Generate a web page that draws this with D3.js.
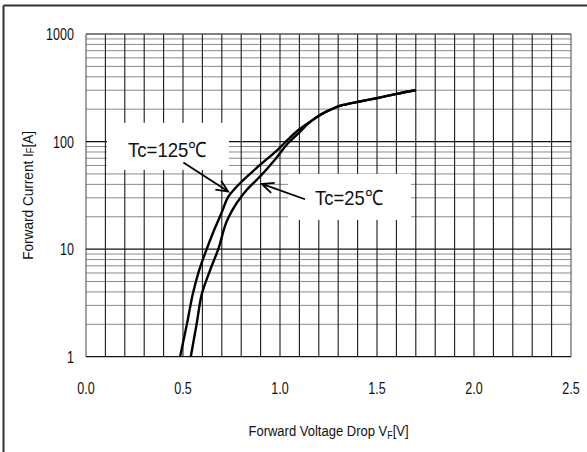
<!DOCTYPE html>
<html><head><meta charset="utf-8">
<script src="https://cdn.jsdelivr.net/npm/d3@7"></script>
<style>
html,body{margin:0;padding:0;background:#fff;}
svg{display:block;}
text{font-family:"Liberation Sans",Arial,sans-serif;fill:#111;}
</style></head>
<body>
<svg id="chart" width="587" height="452"></svg>
<script>
// ---- data ----
const vf125 = [0.485,0.52,0.553,0.584,0.622,0.66,0.70,0.735,0.794,0.88,1.0,1.04,1.10,1.155,1.258,1.326,1.412,1.498,1.601,1.70];
const if125 = [1,2,4,6.4,10,15,22,31,41,57,88,104,130,153,197,219,236,253,278,300];
const vf25  = [0.54,0.57,0.60,0.64,0.682,0.73,0.776,0.828,0.897,0.98,1.04,1.10,1.155,1.258,1.326,1.412,1.498,1.601,1.70];
const if25  = [1,2,4,6.4,10,19,26.7,35.5,47.3,70,96,122,152,197,219,236,253,278,300];
const xTicks = [0,0.5,1.0,1.5,2.0,2.5];
const xTickLabels = ["0.0","0.5","1.0","1.5","2.0","2.5"];
const yTicks = [1,10,100,1000];
const yTickLabels = ["1","10","100","1000"];
const labels = ["Tc=125℃","Tc=25℃"];
// annotation anchors in data units: box [v0,v1,i0,i1], text [v,i], arrow tail/tip
const boxes = [[0.108,0.737,54.5,149.3],[1.041,1.675,18.7,50.1]];
const textAt = [[0.42,72.1],[1.356,25.8]];
const arrowTail = [[0.502,63.8],[1.129,29.1]];
const arrowTip  = [[0.733,34.3],[0.906,40.4]];

// ---- layout ----
const svg = d3.select("#chart");
const L = 86, R = 571, T = 34, B = 356.7;
const x = d3.scaleLinear().domain([0,2.5]).range([L,R]);
const y = d3.scaleLog().domain([1,1000]).range([B,T]);

// outer frame (left & top)
svg.append("line").attr("x1",3.5).attr("x2",3.5).attr("y1",5.5).attr("y2",452).attr("stroke","#333").attr("stroke-width",2);
svg.append("line").attr("x1",3.5).attr("x2",587).attr("y1",5.5).attr("y2",5.5).attr("stroke","#333").attr("stroke-width",2);

const g = svg.append("g");
// minor horizontal grid
const minor = [];
for (let d = 1; d < 1000; d *= 10) for (let k = 2; k <= 9; k++) minor.push(d*k);
g.selectAll(".hmin").data(minor).enter().append("line")
  .attr("x1",L).attr("x2",R).attr("y1",d=>y(d)).attr("y2",d=>y(d))
  .attr("stroke","#8a8a8a").attr("stroke-width",1);
// vertical grid every 0.1
const vgrid = d3.range(0,26).map(i=>i/10);
g.selectAll(".v").data(vgrid).enter().append("line")
  .attr("x1",d=>x(d)).attr("x2",d=>x(d)).attr("y1",T).attr("y2",B)
  .attr("stroke",(d,i)=> (i===0||i===25)?"#555":"#1a1a1a").attr("stroke-width",1.1);
// decade lines
g.selectAll(".hmaj").data(yTicks).enter().append("line")
  .attr("x1",L).attr("x2",R).attr("y1",d=>y(d)).attr("y2",d=>y(d))
  .attr("stroke",(d,i)=> i===3?"#555":"#111").attr("stroke-width",1.3);

// tick labels
function squeeze(sel, k){ sel.each(function(){ const n=this.getComputedTextLength(); d3.select(this).attr("textLength",n*k).attr("lengthAdjust","spacingAndGlyphs"); }); }
const xt = svg.selectAll(".xt").data(xTicks).enter().append("text")
  .attr("x",d=>x(d)).attr("y",393.5).attr("text-anchor","middle").attr("font-size",16.5)
  .text((d,i)=>xTickLabels[i]);
squeeze(xt,0.76);
const yt = svg.selectAll(".yt").data(yTicks).enter().append("text")
  .attr("x",74).attr("y",d=>y(d)+6).attr("text-anchor","end").attr("font-size",16.5)
  .text((d,i)=>yTickLabels[i]);
squeeze(yt,0.76);

// axis titles (horizontally condensed via scale)
const xlg = svg.append("g").attr("transform",`translate(${(L+R)/2},436) scale(0.84,1)`);
const xl = xlg.append("text").attr("text-anchor","middle").attr("font-size",15.5);
xl.append("tspan").text("Forward Voltage Drop V");
xl.append("tspan").attr("font-size",10.5).attr("dy",3).text("F");
xl.append("tspan").attr("dy",-3).text("[V]");
const ylg = svg.append("g").attr("transform",`translate(33,${(T+B)/2}) rotate(-90) scale(0.88,1)`);
const yl = ylg.append("text").attr("text-anchor","middle").attr("font-size",15.5);
yl.append("tspan").text("Forward Current I");
yl.append("tspan").attr("font-size",10.5).attr("dy",1).text("F");
yl.append("tspan").attr("dy",-1).text("[A]");

// annotation boxes
svg.selectAll(".box").data(boxes).enter().append("rect")
  .attr("x",d=>x(d[0])).attr("width",d=>x(d[1])-x(d[0]))
  .attr("y",d=>y(d[3])).attr("height",d=>y(d[2])-y(d[3]))
  .attr("fill","#fff");

// curves
const line = d3.line().x(d=>x(d[0])).y(d=>y(d[1])).curve(d3.curveMonotoneY);
const c125 = vf125.map((v,i)=>[v,if125[i]]);
const c25 = vf25.map((v,i)=>[v,if25[i]]);
[c125,c25].forEach(c=>svg.append("path").attr("d",line(c)).attr("fill","none").attr("stroke","#000").attr("stroke-width",2.4).attr("stroke-linejoin","round"));

// annotation texts
const tw = [79,68];
svg.selectAll(".ann").data(labels).enter().append("text")
  .attr("x",(d,i)=>x(textAt[i][0])).attr("y",(d,i)=>y(textAt[i][1]))
  .attr("text-anchor","middle").attr("font-size",21)
  .attr("textLength",(d,i)=>tw[i]).attr("lengthAdjust","spacingAndGlyphs")
  .text(d=>d);

// arrows (open heads)
arrowTail.forEach((t,i)=>{
  const x0=x(t[0]), y0=y(t[1]), x1=x(arrowTip[i][0]), y1=y(arrowTip[i][1]);
  const a = Math.atan2(y1-y0,x1-x0), len=13, sp=0.42;
  const p = d3.path();
  p.moveTo(x0,y0); p.lineTo(x1,y1);
  p.moveTo(x1-len*Math.cos(a-sp), y1-len*Math.sin(a-sp)); p.lineTo(x1,y1);
  p.lineTo(x1-len*Math.cos(a+sp), y1-len*Math.sin(a+sp));
  svg.append("path").attr("d",p.toString()).attr("fill","none").attr("stroke","#000").attr("stroke-width",1.8);
});
</script>
</body></html>
